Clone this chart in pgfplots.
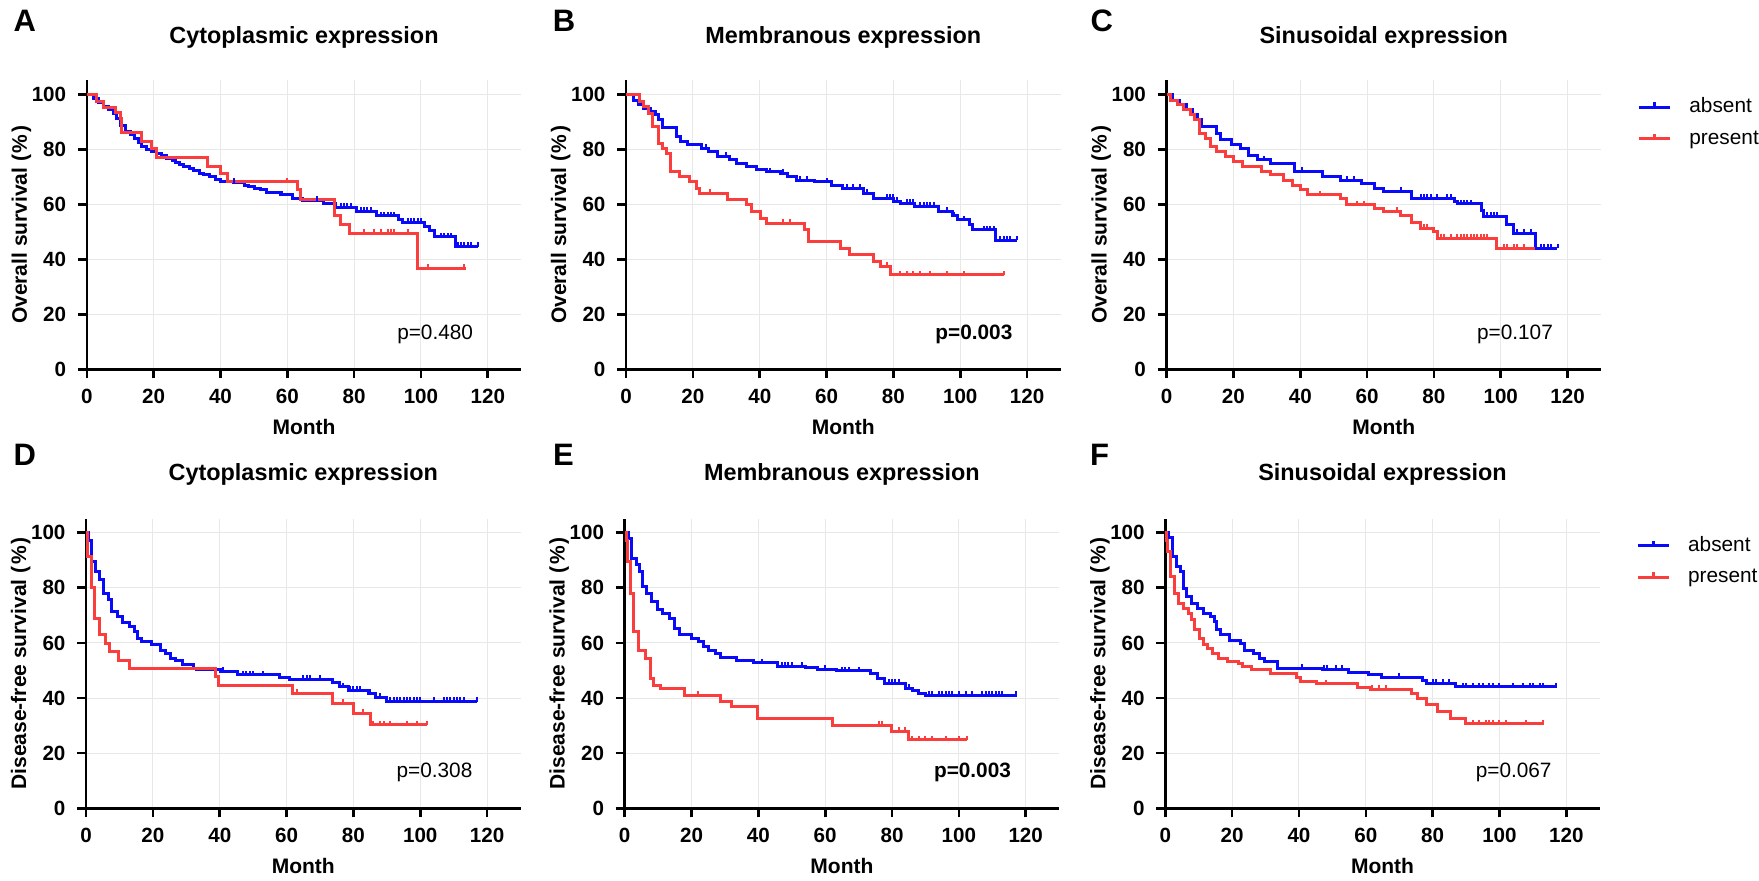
\documentclass[border=0pt]{standalone}
\usepackage{pgfplots}
\pgfplotsset{compat=1.18}
\usepackage{fontspec}
\setmainfont{Liberation Sans}

\definecolor{kmblue}{RGB}{10,10,250}
\definecolor{kmred}{RGB}{250,62,62}

% censor tick pointing up
\pgfdeclareplotmark{utick}{%
  \pgfpathmoveto{\pgfpointorigin}%
  \pgfpathlineto{\pgfqpoint{0pt}{\pgfplotmarksize}}%
  \pgfusepathqstroke}

\pgfplotsset{
  every axis title shift=0pt,
  km/.style={
    scale only axis, width=217.2pt, height=144.4pt,
    xmin=0, xmax=130, ymin=0, ymax=105,
    xtick={0,20,...,120}, ytick={0,20,...,100},
    axis x line*=bottom, axis y line*=left,
    axis line style={line width=1.3pt, -},
    tick align=outside, major tick length=4.5pt,
    tick style={line width=1.3pt, black},
    grid=major, grid style={line width=0.5pt, black!9},
    /pgf/number format/assume math mode=true,
    tick label style={font=\bfseries\fontsize{10.3}{12}\selectfont},
    xticklabel style={yshift=-2pt},
    yticklabel style={xshift=-2.3pt},
    label style={font=\bfseries\fontsize{10.5}{12}\selectfont},
    xlabel={Month},
    xlabel style={at={(axis description cs:0.5,0)}, anchor=center, yshift=-28.7pt},
    ylabel style={at={([xshift=-32.7pt]axis description cs:0,0.5)}, anchor=center},
    title style={at={(axis description cs:0.5,1)}, anchor=base, yshift=18.3pt,
      font=\bfseries\fontsize{11.7}{14}\selectfont},
    clip=false,
  },
  row2/.style={height=144.7pt, title style={yshift=0.8pt}},
  surv/.style={const plot, line width=1.5pt, mark=none, forget plot},
  cens/.style={only marks, mark=utick, mark size=2.1pt, line width=1pt, forget plot},
  kmleg/.style={
    legend style={at={([xshift=18.2pt, yshift=-8.45pt]axis description cs:1,1)},
      anchor=north west, draw=none, fill=none, inner sep=0pt,
      nodes={inner sep=0pt, text height=7.5pt, text depth=2pt},
      font=\fontsize{10.4}{12}\selectfont, row sep=6.3pt,
      cells={anchor=west}},
    legend image code/.code={\draw[##1, mark repeat=2, mark phase=2]
      plot coordinates {(0pt,0pt) (7.75pt,0pt) (15.5pt,0pt)};
      \path (24.3pt,0pt);},
  },
}
\newcommand{\pval}[1]{\node[anchor=base east, font=\fontsize{10.4}{12}\selectfont]
  at (axis cs:117.7,11) {#1};}
\newcommand{\pvalb}[1]{\node[anchor=base east, font=\bfseries\fontsize{10.4}{12}\selectfont]
  at (axis cs:117.7,11) {#1};}
\newcommand{\pct}{(\kern0.8pt\%\kern0.8pt)}

\begin{document}
\begin{tikzpicture}
\useasboundingbox (0,0) rectangle (879.5pt,440.5pt);

% ---------------- A ----------------
\begin{axis}[km, at={(43.4pt,255.85pt)}, anchor=south west,
  title={Cytoplasmic expression}, ylabel={Overall survival \pct}]
\addplot[surv, kmblue] coordinates {(0,100) (2,98.3) (3.5,97) (5,95.5) (6.5,94.5) (8,93) (9,91) (10,88.8) (11.6,86.4) (13,85.5) (14.2,84) (15.5,82.5) (16.3,81) (18,80) (19.3,79.2) (21,78.4) (22.4,77.6) (24,76.8) (25.5,76) (26.5,75) (27.6,74.3) (29,73.6) (30.7,73) (32,72.2) (33.8,71.3) (35,70.7) (36.8,70) (38.5,69) (39.9,68.2) (44,67.9) (47.1,67) (48.5,66.4) (50.2,65.8) (52,65.2) (53.8,64.2) (57.9,63.4) (61.5,62.2) (64.6,61.3) (70.8,60.1) (74.4,58.9) (80.6,57.3) (86.8,55.8) (93.4,54.3) (94.5,53.3) (101.2,51.9) (102.7,50.4) (104.2,48.2) (110.4,44.6) (117,44.6)};
\addplot[surv, kmred] coordinates {(0,100) (3,97.5) (5,95) (8.5,93.5) (10,91) (10.5,86) (16.5,82.8) (19.5,80.1) (21,77.1) (36,73.9) (40,71.3) (42,68.2) (63,65.2) (64,61.6) (74,55.8) (76,52.8) (78.5,49.4) (99,36.7) (113.5,36.7)};
\addplot[cens, kmblue] coordinates {(29,73.6) (44,67.9) (58.5,63.4) (69,61.3) (76,58.9) (77,58.9) (78,58.9) (79,58.9) (82,57.3) (83,57.3) (84,57.3) (85,57.3) (88,55.8) (89,55.8) (90,55.8) (91,55.8) (92,55.8) (96,53.3) (97,53.3) (98,53.3) (99,53.3) (100,53.3) (106,48.2) (107,48.2) (108,48.2) (109,48.2) (111,44.6) (112,44.6) (113,44.6) (114,44.6) (115,44.6) (117,44.6)};
\addplot[cens, kmred] coordinates {(60,68.2) (83,49.4) (86,49.4) (88,49.4) (90,49.4) (91,49.4) (92,49.4) (96,49.4) (102,36.7) (113,36.7)};
\pval{p=0.480}
\end{axis}

% ---------------- B ----------------
\begin{axis}[km, at={(313.05pt,255.85pt)}, anchor=south west,
  title={Membranous expression}, ylabel={Overall survival \pct}]
\addplot[surv, kmblue] coordinates {(0,100) (2.1,97.9) (3.6,96.1) (5.1,94.9) (7.2,93.7) (8.7,92.5) (9.8,90.7) (10.8,87.9) (15.2,84.6) (16.4,82.8) (18.5,81.6) (22.6,80.4) (24.7,79.2) (27.2,77.3) (30.8,76.1) (32.9,74.9) (36,73.7) (39,72.5) (42,71.8) (46.2,71.3) (48.3,70) (50.9,68.8) (56.5,68.2) (61.6,67) (64.7,65.8) (70.9,64) (74,62.2) (80.1,61) (82.2,60.4) (86.3,59.2) (93.5,57.3) (97.6,55.8) (99.1,54.3) (102.7,52.5) (103.8,50.7) (110.4,47) (117,47)};
\addplot[surv, kmred] coordinates {(0,100) (4.1,97.5) (5.1,95.5) (6.7,93) (8,88.2) (9.8,82.2) (10.8,80.4) (12.1,78.5) (13.2,71.9) (15.9,70) (19,68.2) (21.1,65.8) (22.1,64) (30.3,61.6) (36,59.8) (37.5,57.3) (40.1,54.9) (42.1,53.1) (53.4,50.7) (54.5,46.4) (64.2,44) (66.8,41.6) (74,39.2) (76,37.3) (79.1,34.3) (113,34.3)};
\addplot[cens, kmblue] coordinates {(24,80.4) (30,77.3) (43,71.8) (47,71.3) (52,68.8) (54,68.8) (60,68.2) (66,65.8) (68,65.8) (70,65.8) (72,64) (78,62.2) (79,62.2) (80,62.2) (81,61) (84,60.4) (85,60.4) (86,60.4) (88,59.2) (89,59.2) (90,59.2) (91,59.2) (92,59.2) (96,57.3) (98,55.8) (101,54.3) (107,50.7) (108,50.7) (109,50.7) (110,50.7) (112,47) (113,47) (114,47) (115,47) (117,47)};
\addplot[cens, kmred] coordinates {(25,64) (47,53.1) (49,53.1) (78,37.3) (82,34.3) (84,34.3) (86,34.3) (88,34.3) (91,34.3) (96,34.3) (101,34.3) (113,34.3)};
\pvalb{p=0.003}
\end{axis}

% ---------------- C ----------------
\begin{axis}[km, kmleg, at={(583.3pt,255.85pt)}, anchor=south west,
  title={Sinusoidal expression}, ylabel={Overall survival \pct}]
\addlegendimage{kmblue, line width=1.5pt, mark=utick, mark size=2.5pt}
\addlegendentry{absent}
\addlegendimage{kmred, line width=1.5pt, mark=utick, mark size=2.5pt}
\addlegendentry{present}
\addplot[surv, kmblue] coordinates {(0,100) (1.9,97.9) (3.9,96.1) (5.8,94.3) (7.8,92.5) (9.1,90.7) (10.4,88.2) (14.9,85.8) (16.2,83.4) (19.5,81.6) (22.1,80.4) (24.6,77.9) (27.2,76.1) (31.1,74.7) (38.3,71.9) (46.7,70) (51.9,68.8) (58.4,67.6) (62.3,65.8) (64.9,64.6) (73.3,62.2) (86.3,61) (86.9,60.1) (94.1,57.9) (94.7,55.5) (101.8,52.5) (103.8,49.5) (110.3,44) (116.8,44)};
\addplot[surv, kmred] coordinates {(0,100) (1.3,97.9) (3.2,96.1) (5.2,94.3) (7.1,92.5) (8.4,90.7) (9.7,85.8) (11.7,84) (13,81) (14.9,79.2) (17.5,77.3) (20.1,75.5) (22.7,73.7) (28.5,71.9) (31.1,70.7) (35,68.8) (37.6,67) (40.2,65.2) (42.2,63.4) (51.9,62.2) (53.8,59.8) (62.3,58.5) (64.9,57.3) (70.1,55.8) (73.3,53.3) (75.9,51.3) (79.8,50.1) (81.1,47.6) (98.6,44) (110.3,44)};
\addplot[cens, kmblue] coordinates {(22,80.4) (29,76.1) (40.5,71.9) (54,68.8) (56,68.8) (70,64.6) (76,62.2) (77,62.2) (78,62.2) (79,62.2) (81,62.2) (84,62.2) (85,62.2) (88,60.1) (89,60.1) (90,60.1) (91,60.1) (96,55.5) (97,55.5) (98,55.5) (99,55.5) (105,49.5) (107,49.5) (109,49.5) (112,44) (113,44) (114,44) (115,44) (117,44)};
\addplot[cens, kmred] coordinates {(46,63.4) (57,59.8) (59,59.8) (69,57.3) (77,51.3) (78,51.3) (82,47.6) (83,47.6) (85,47.6) (87,47.6) (88,47.6) (89,47.6) (90,47.6) (91,47.6) (92,47.6) (93,47.6) (94,47.6) (95,47.6) (96,47.6) (101,44) (102,44) (104,44) (105,44) (107,44)};
\pval{p=0.107}
\end{axis}

% ---------------- D ----------------
\begin{axis}[km, row2, at={(43.05pt,36.35pt)}, anchor=south west,
  title={Cytoplasmic expression}, ylabel={Disease-free survival \pct}]
\addplot[surv, kmblue] coordinates {(0,100) (0.8,97.3) (1.5,89.5) (2.9,85.9) (4.1,82.9) (5.2,78) (6.7,75.6) (7.7,71.4) (9.3,69.5) (10.8,67.4) (12.9,65.9) (14.4,64.1) (15.5,61.7) (16.5,60.5) (19.6,59.3) (22.2,57.4) (23.7,56.2) (25.3,54.4) (26.8,53.8) (28.9,52) (32,50.8) (33,50.2) (40.2,49.6) (45.4,48.4) (57.8,47.5) (60.9,46.8) (73.8,45.8) (75.8,44.1) (78.4,42.9) (84.6,41.7) (86.7,40.3) (89.8,38.7) (117,38.7)};
\addplot[surv, kmred] coordinates {(0,100) (0.5,91.5) (1.5,80.2) (2.6,68.9) (3.9,63.2) (5.7,59.9) (7,56.9) (9.8,53.8) (12.9,50.8) (38.7,47.8) (39.7,44.7) (61.9,41.7) (73.8,38.1) (80,34.5) (85.1,30.3) (102.1,30.3)};
\addplot[cens, kmblue] coordinates {(41,49.6) (47,48.4) (48,48.4) (49,48.4) (50,48.4) (53,48.4) (58,47.5) (65,46.8) (66,46.8) (67,46.8) (70,46.8) (77,44.1) (79,42.9) (80,42.9) (81,42.9) (82,42.9) (85,41.7) (88,40.3) (91,38.7) (92,38.7) (93,38.7) (94,38.7) (95,38.7) (96,38.7) (97,38.7) (98,38.7) (99,38.7) (100,38.7) (104,38.7) (107,38.7) (108,38.7) (109,38.7) (110,38.7) (111,38.7) (112,38.7) (113,38.7) (117,38.7)};
\addplot[cens, kmred] coordinates {(63,41.7) (77,38.1) (83,34.5) (86,30.3) (88,30.3) (89,30.3) (91,30.3) (96,30.3) (99,30.3) (102,30.3)};
\pval{p=0.308}
\end{axis}

% ---------------- E ----------------
\begin{axis}[km, row2, at={(312.35pt,36.35pt)}, anchor=south west,
  title={Membranous expression}, ylabel={Disease-free survival \pct}]
\addplot[surv, kmblue] coordinates {(0,100) (1.2,97.9) (2,90.7) (3.5,88.3) (4.5,85.9) (5.4,80.4) (6.6,78) (8.1,75) (9.7,72) (11.2,70.8) (13.3,69) (14.8,65.3) (16.4,62.9) (20,61.7) (22,60.5) (23.6,58.6) (25.2,57.2) (27.2,56.2) (28.8,54.8) (33.4,53.6) (38.6,52.8) (45.8,51.6) (54,51.2) (57.6,50.4) (63.3,49.9) (73.6,48.9) (75.7,47.1) (77.7,45.3) (83.9,43.5) (86,42.6) (88,41.7) (90.1,41.1) (117.4,41.1)};
\addplot[surv, kmred] coordinates {(0,100) (0.5,97) (0.9,89.4) (1.6,78) (2.7,64.1) (4,57.4) (6.1,54.4) (7.6,47.1) (8.7,44.7) (10.7,43.5) (17.9,41.1) (28.8,38.7) (31.9,36.9) (39.6,32.6) (62.3,30.2) (79.8,27.8) (84.9,24.8) (102.5,24.8)};
\addplot[cens, kmblue] coordinates {(41,52.8) (47,51.6) (48,51.6) (49,51.6) (50,51.6) (53,51.6) (60,50.4) (65,49.9) (66,49.9) (67,49.9) (70,49.9) (79,45.3) (80,45.3) (81,45.3) (82,45.3) (85,43.5) (91,41.1) (92,41.1) (94,41.1) (95,41.1) (96,41.1) (97,41.1) (98,41.1) (100,41.1) (102,41.1) (104,41.1) (107,41.1) (108,41.1) (109,41.1) (110,41.1) (111,41.1) (112,41.1) (113,41.1) (117,41.1)};
\addplot[cens, kmred] coordinates {(22,41.1) (76,30.2) (77,30.2) (82,27.8) (84,27.8) (86,24.8) (88,24.8) (90,24.8) (92,24.8) (96,24.8) (100,24.8) (102.5,24.8)};
\pvalb{p=0.003}
\end{axis}

% ---------------- F ----------------
\begin{axis}[km, row2, kmleg, at={(582.65pt,36.35pt)}, anchor=south west,
  title={Sinusoidal expression}, ylabel={Disease-free survival \pct}]
\addlegendimage{kmblue, line width=1.5pt, mark=utick, mark size=2.5pt}
\addlegendentry{absent}
\addlegendimage{kmred, line width=1.5pt, mark=utick, mark size=2.5pt}
\addlegendentry{present}
\addplot[surv, kmblue] coordinates {(0,100) (1,98.3) (2.1,91.3) (3.2,87.7) (4.5,85.9) (5.3,79.8) (6.2,76.8) (7.9,74.4) (9.5,72.6) (11.4,70.8) (13.4,69.5) (14.7,67.7) (15.3,64.7) (16.6,62.9) (19.2,61) (22.4,59.8) (23.7,57.4) (26.3,56.2) (28.3,54.4) (29.6,53.2) (33.5,50.8) (47.1,50.4) (54.9,49.2) (60.7,48.4) (64.6,47.5) (76.9,46.3) (78.2,45.3) (86.7,44.1) (117.2,44.1)};
\addplot[surv, kmred] coordinates {(0,100) (0.4,97) (0.8,93) (1.7,84) (2.7,78) (4,74.4) (5.3,72.6) (6.9,70.8) (7.9,68.4) (8.8,64.7) (10.1,61.7) (11.4,59.3) (12.7,58.1) (14,56.2) (16,54.4) (18.6,53.2) (21.8,52.6) (23.1,51.4) (25.7,50.2) (31.5,49) (39.3,47.5) (40.6,46) (45.1,45.1) (57.5,43.9) (61.4,43.2) (73.7,41.7) (75.6,39.9) (78.2,37.5) (81.5,35.1) (85.4,32.6) (89.9,30.6) (113.3,30.6)};
\addplot[cens, kmblue] coordinates {(41,50.8) (47.5,50.4) (48.5,50.4) (51,50.4) (53,50.4) (70,47.5) (80,45.3) (81,45.3) (83,45.3) (85,45.3) (89,44.1) (90,44.1) (92,44.1) (94,44.1) (95,44.1) (97,44.1) (98,44.1) (100,44.1) (104,44.1) (107,44.1) (109,44.1) (110,44.1) (112,44.1) (113,44.1) (117,44.1)};
\addplot[cens, kmred] coordinates {(48,45.1) (62,43.2) (64,43.2) (66,43.2) (90,30.6) (92,30.6) (94,30.6) (96,30.6) (97,30.6) (98,30.6) (100,30.6) (102,30.6) (108,30.6) (113,30.6)};
\pval{p=0.067}
\end{axis}

% panel letters
\node[font=\bfseries\fontsize{15.5}{18}\selectfont] at (12.4pt,430.2pt) {A};
\node[font=\bfseries\fontsize{15.5}{18}\selectfont] at (282pt,430.2pt) {B};
\node[font=\bfseries\fontsize{15.5}{18}\selectfont] at (550.9pt,430.2pt) {C};
\node[font=\bfseries\fontsize{15.5}{18}\selectfont] at (12.4pt,213pt) {D};
\node[font=\bfseries\fontsize{15.5}{18}\selectfont] at (281.7pt,213pt) {E};
\node[font=\bfseries\fontsize{15.5}{18}\selectfont] at (549.8pt,213pt) {F};
\end{tikzpicture}
\end{document}
